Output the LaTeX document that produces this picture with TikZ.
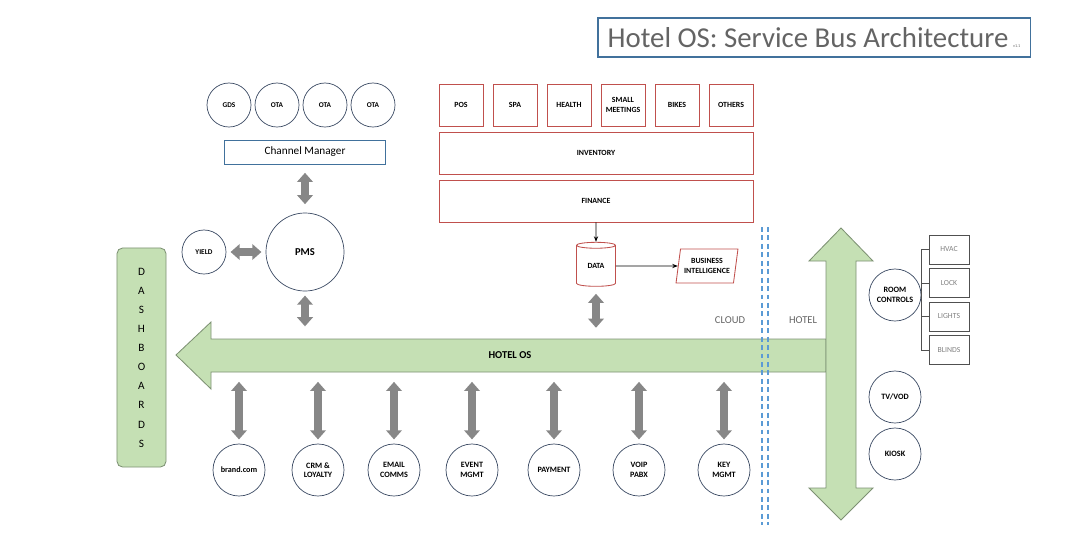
\documentclass[tikz,border=0pt]{standalone}
\usepackage{fontspec}
\setmainfont{Carlito}
\usetikzlibrary{shapes.geometric,arrows.meta,positioning}
\definecolor{titleblue}{RGB}{65,113,156}
\definecolor{titlegray}{RGB}{100,100,100}
\definecolor{busgreen}{RGB}{197,224,180}
\definecolor{busedge}{RGB}{125,145,115}
\definecolor{arrowgray}{RGB}{135,135,135}
\definecolor{boxred}{RGB}{192,80,77}
\definecolor{ringblue}{RGB}{60,75,100}
\definecolor{dashblue}{RGB}{91,155,213}
\definecolor{devgray}{RGB}{80,80,80}
\definecolor{textgray}{RGB}{128,128,128}
\begin{document}
\begin{tikzpicture}[x=0.025cm,y=-0.025cm,
  every node/.style={inner sep=0pt},
  ring/.style={circle,draw=ringblue,line width=0.5pt,fill=white,align=center,font=\bfseries\fontsize{5.8}{6.8}\selectfont},
  smallring/.style={ring,minimum size=1.1cm,font=\bfseries\fontsize{5.2}{6}\selectfont},
  bigring/.style={ring,minimum size=1.3cm},
  redbox/.style={draw=boxred,line width=0.6pt,align=center,font=\bfseries\fontsize{5.6}{6.6}\selectfont},
  devbox/.style={draw=devgray,line width=0.6pt,minimum width=1cm,minimum height=0.725cm,text=textgray,font=\fontsize{5.5}{6}\selectfont},
  duplex/.style={draw=arrowgray,line width=5pt,{Triangle[length=6.5pt,width=11pt]}-{Triangle[length=6.5pt,width=11pt]}},
  flow/.style={draw=black,line width=0.6pt,-{Stealth[length=4pt,width=3pt]}},
  cut/.style={draw=dashblue,line width=0.9pt,dash pattern=on 3.5pt off 2.5pt},
  bigarrow/.style={fill=busgreen,draw=busedge,line width=0.6pt}]
\useasboundingbox (0,0) rectangle (1080,548);
% title
\node[draw=titleblue,line width=0.8pt,minimum width=10.8cm,minimum height=0.975cm,text=titlegray,font=\fontsize{20.5}{21}\selectfont] (title) at (814,37.5) {Hotel OS: Service Bus Architecture\,{\fontsize{3}{3}\selectfont v1.1}};
% bus and hotel arrow
\draw[bigarrow] (176,355) -- (211,322) -- (211,339) -- (826,339) -- (826,372) -- (211,372) -- (211,389) -- cycle;
\draw[bigarrow] (841,228) -- (873,261) -- (856,261) -- (856,488) -- (873,488) -- (841,520) -- (809,488) -- (826,488) -- (826,261) -- (809,261) -- cycle;
\node[font=\bfseries\fontsize{7.5}{8}\selectfont] (hotelos) at (510,355) {HOTEL OS};
\coordinate (busN) at (0,339);
\coordinate (busS) at (0,372);
% cloud / hotel split
\draw[cut] (762,227) -- (762,525);
\draw[cut] (768,227) -- (768,525);
\node[text=titlegray,font=\fontsize{7.5}{8}\selectfont] (cloud) at (730,320) {CLOUD};
\node[text=titlegray,font=\fontsize{7.5}{8}\selectfont] (hotel) at (803,320) {HOTEL};
% dashboards
\node[fill=busgreen,draw=busedge,line width=0.6pt,rounded corners=4pt,minimum width=1.225cm,minimum height=5.475cm,align=center,font=\fontsize{8}{13.6}\selectfont] (dash) at (141.5,357.5) {D\\A\\S\\H\\B\\O\\A\\R\\D\\S};
% channels
\foreach \n/\t [count=\i] in {gds/GDS,ota1/OTA,ota2/OTA,ota3/OTA}
  \node[smallring] (\n) at (229+48*\i-48,105) {\t};
\node[draw=titleblue,line width=0.5pt,minimum width=4.025cm,minimum height=0.6cm,font=\fontsize{8}{9}\selectfont] (cm) at (305,152) {Channel Manager};
\node[ring,minimum size=1.95cm,font=\bfseries\fontsize{7.5}{8}\selectfont] (pms) at (305,252) {PMS};
\node[smallring] (yield) at (204,252) {YIELD};
\draw[duplex,shorten <=6pt,shorten >=6pt] (cm) -- (pms);
\draw[duplex,shorten <=3pt,shorten >=3pt] (yield) -- (pms);
\draw[duplex,shorten <=3pt,shorten >=9pt] (pms) -- (pms |- busN);
% cloud services
\foreach \n/\t [count=\i] in {pos/POS,spa/SPA,health/HEALTH,meet/SMALL\\MEETINGS,bikes/BIKES,others/OTHERS}
  \node[redbox,minimum width=1.1cm,minimum height=1.05cm] (\n) at (461+54*\i-54,105) {\t};
\node[redbox,minimum width=7.85cm,minimum height=1.05cm] (inv) at (596,153) {INVENTORY};
\node[redbox,minimum width=7.85cm,minimum height=1.05cm] (fin) at (596,201) {FINANCE};
\node[redbox,cylinder,shape border rotate=90,aspect=0.35,fill=white,minimum width=0.975cm,minimum height=1.1cm] (data) at (596,266) {DATA};
\node[redbox,trapezium,trapezium left angle=75,trapezium right angle=105,trapezium stretches=true,minimum width=1.55cm,minimum height=0.85cm] (bi) at (707,266) {BUSINESS\\INTELLIGENCE};
\draw[flow] (fin) -- (data);
\draw[flow] (data) -- (bi);
\draw[duplex,shorten <=5pt,shorten >=8pt] (data) -- (data |- busN);
% guest services
\node[bigring] (brand) at (239,470) {brand.com};
\node[bigring] (crm) at (318,470) {CRM \&\\LOYALTY};
\node[bigring] (email) at (394,470) {EMAIL\\COMMS};
\node[bigring] (event) at (472,470) {EVENT\\MGMT};
\node[bigring] (pay) at (554,470) {PAYMENT};
\node[bigring] (voip) at (639,470) {VOIP\\PABX};
\node[bigring] (key) at (724,470) {KEY\\MGMT};
\foreach \n in {brand,crm,email,event,pay,voip,key}
  \draw[duplex,shorten <=7pt,shorten >=3pt] (\n |- busS) -- (\n);
% in-room
\node[bigring] (room) at (895,295) {ROOM\\CONTROLS};
\node[bigring] (tv) at (895,397) {TV/VOD};
\node[bigring] (kiosk) at (895,454) {KIOSK};
\node[devbox] (hvac) at (949,249.5) {HVAC};
\node[devbox] (lock) at (949,283) {LOCK};
\node[devbox] (lights) at (949,316.5) {LIGHTS};
\node[devbox] (blinds) at (949,350) {BLINDS};
\draw[devgray,line width=0.6pt] (hvac.west) -- ++(-7,0) |- (blinds.west);
\draw[devgray,line width=0.6pt] (lock.west) -- ++(-7,0);
\draw[devgray,line width=0.6pt] (lights.west) -- ++(-7,0);
\end{tikzpicture}
\end{document}
